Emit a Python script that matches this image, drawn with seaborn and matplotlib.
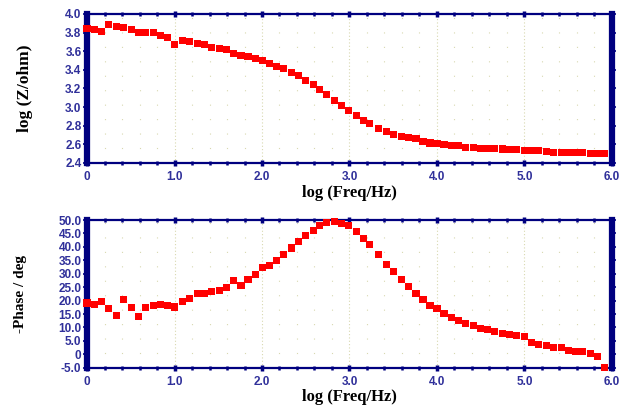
import numpy as np
import seaborn as sns
import matplotlib.pyplot as plt
from matplotlib.ticker import MultipleLocator, FixedLocator

# log frequency (decades), same sweep for both panels
log_freq = [0.00, 0.09, 0.17, 0.25, 0.34, 0.42, 0.51, 0.59, 0.67, 0.76, 0.84, 0.92,
            1.00, 1.09, 1.17, 1.26, 1.34, 1.42, 1.51, 1.59, 1.67, 1.76, 1.84, 1.93,
            2.01, 2.09, 2.17, 2.25, 2.34, 2.42, 2.50, 2.59, 2.66, 2.74, 2.83, 2.91,
            2.99, 3.08, 3.16, 3.23, 3.33, 3.42, 3.50, 3.59, 3.67, 3.76, 3.84, 3.92,
            4.00, 4.08, 4.17, 4.25, 4.33, 4.42, 4.50, 4.58, 4.66, 4.75, 4.83, 4.91,
            5.00, 5.08, 5.16, 5.25, 5.33, 5.42, 5.50, 5.58, 5.66, 5.75, 5.84, 5.92]

log_z = [3.84, 3.835, 3.81, 3.89, 3.865, 3.85, 3.83, 3.80, 3.80, 3.80, 3.77, 3.75,
         3.675, 3.72, 3.705, 3.68, 3.67, 3.645, 3.63, 3.615, 3.58, 3.555, 3.54, 3.52,
         3.50, 3.465, 3.435, 3.41, 3.37, 3.335, 3.285, 3.245, 3.19, 3.135, 3.075, 3.015,
         2.965, 2.905, 2.86, 2.825, 2.775, 2.735, 2.71, 2.685, 2.67, 2.66, 2.635, 2.615,
         2.605, 2.595, 2.585, 2.585, 2.57, 2.57, 2.56, 2.56, 2.555, 2.55, 2.545, 2.54,
         2.535, 2.535, 2.53, 2.52, 2.515, 2.51, 2.51, 2.51, 2.51, 2.505, 2.50, 2.50]

neg_phase = [19.1, 18.6, 19.7, 16.9, 14.4, 20.5, 17.5, 14.1, 17.5, 18.3, 18.7, 18.3,
             17.6, 19.7, 20.7, 22.8, 22.7, 23.4, 23.8, 24.9, 27.5, 25.7, 27.9, 29.8,
             32.2, 33.1, 35.1, 37.0, 39.6, 41.9, 44.4, 46.0, 47.8, 49.0, 49.4, 48.8,
             47.9, 45.7, 43.2, 40.9, 37.0, 33.5, 31.0, 27.7, 25.3, 22.6, 20.5, 18.1,
             16.9, 15.2, 13.7, 12.5, 11.4, 10.6, 9.65, 9.2, 8.4, 7.8, 7.4, 6.9,
             6.7, 4.3, 3.7, 3.2, 2.5, 2.5, 1.5, 1.2, 1.0, 0.3, -0.9, -4.9]

x_ticks = [0, 1, 2, 3, 4, 5, 6]
x_labels = ["0", "1.0", "2.0", "3.0", "4.0", "5.0", "6.0"]
z_ticks = [2.4, 2.6, 2.8, 3.0, 3.2, 3.4, 3.6, 3.8, 4.0]
p_ticks = [-5, 0, 5, 10, 15, 20, 25, 30, 35, 40, 45, 50]

sns.set_theme(style="white")
plt.rcParams['font.family'] = ['Liberation Sans', 'DejaVu Sans']

navy = "#00007F"
tick_col = "#30309A"

fig = plt.figure(figsize=(6.19, 4.09), dpi=100)
ax1 = fig.add_axes([0.1406, 0.6015, 0.848, 0.3643])
ax2 = fig.add_axes([0.1406, 0.101, 0.848, 0.361])


def style_axes(ax, yticks, ylabels, ylim):
    ax.set_xlim(0, 6)
    ax.set_ylim(*ylim)
    ax.xaxis.set_major_locator(FixedLocator(x_ticks))
    ax.set_xticklabels(x_labels)
    ax.xaxis.set_minor_locator(MultipleLocator(0.2))
    ax.yaxis.set_major_locator(FixedLocator(yticks))
    ax.set_yticklabels(ylabels)
    # dotted grid: close dots on major x, sparse dots elsewhere
    ax.grid(True, which="major", axis="x", color="#d8d8b0", linestyle=(0, (1, 2)), linewidth=0.8)
    ax.grid(True, which="minor", axis="x", color="#d8d8b0", linestyle=(0, (1, 12)), linewidth=0.8)
    ax.set_axisbelow(True)
    for side in ["top", "bottom"]:
        ax.spines[side].set_color(navy)
        ax.spines[side].set_linewidth(1.6)
        ax.spines[side].set_visible(True)
    for side in ["left", "right"]:
        ax.spines[side].set_color(navy)
        ax.spines[side].set_linewidth(4.5)
        ax.spines[side].set_visible(True)
    ax.tick_params(axis="x", which="major", direction="inout", length=4, width=2.5,
                   color=navy, top=True, bottom=True, pad=4,
                   labelsize=8.5, labelcolor=tick_col)
    ax.tick_params(axis="x", which="minor", direction="inout", length=3, width=1.8,
                   color=navy, top=True, bottom=True)
    ax.tick_params(axis="y", which="major", direction="out", length=3, width=1.2,
                   color=navy, left=True, right=True, pad=1,
                   labelsize=8.5, labelcolor=tick_col)
    for lab in ax.get_xticklabels() + ax.get_yticklabels():
        lab.set_fontweight("bold")
    ax.set_xlabel("log (Freq/Hz)", family=["Liberation Serif"], fontweight="bold",
                  fontsize=12, color="black", labelpad=1)


sns.scatterplot(x=log_freq, y=log_z, ax=ax1, marker="s", s=26, color="#FF0000",
                edgecolor="none", clip_on=False, zorder=3)
style_axes(ax1, z_ticks, [f"{v:.1f}" for v in z_ticks], (2.4, 4.0))
ax1.set_ylabel("log (Z/ohm)", family=["Liberation Serif"], fontweight="bold",
               fontsize=12.5, color="black")
ax1.yaxis.set_label_coords(-0.102, 0.5)

sns.scatterplot(x=log_freq, y=neg_phase, ax=ax2, marker="s", s=26, color="#FF0000",
                edgecolor="none", clip_on=False, zorder=3)
style_axes(ax2, p_ticks, ["0" if v == 0 else f"{v:.1f}" for v in p_ticks], (-5, 50))
ax2.set_ylabel("-Phase / deg", family=["Liberation Serif"], fontweight="bold",
               fontsize=11, color="black")
ax2.yaxis.set_label_coords(-0.115, 0.5)

fig.savefig("out.png", dpi=100)
